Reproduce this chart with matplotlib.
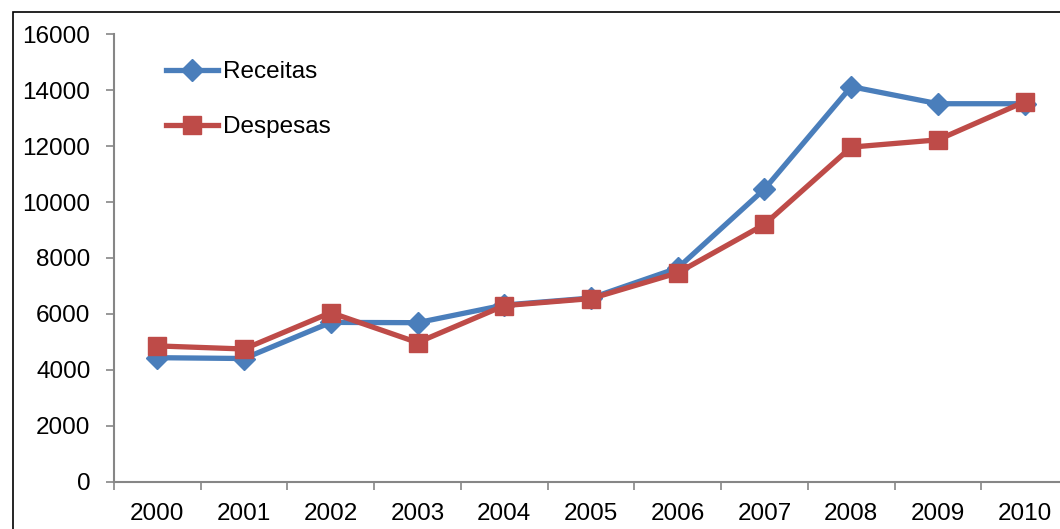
import matplotlib
matplotlib.use("Agg")
import matplotlib.pyplot as plt
from matplotlib.patches import Rectangle

plt.rcParams['font.family'] = ['Liberation Sans', 'DejaVu Sans']

anos = ['2000', '2001', '2002', '2003', '2004', '2005', '2006', '2007', '2008', '2009', '2010']
receitas = [4440, 4410, 5700, 5690, 6320, 6570, 7640, 10460, 14120, 13510, 13510]
despesas = [4860, 4750, 6050, 4980, 6300, 6550, 7470, 9200, 11960, 12220, 13580]
yticks = [0, 2000, 4000, 6000, 8000, 10000, 12000, 14000, 16000]

W, H = 1060, 529
fig = plt.figure(figsize=(W / 100, H / 100), dpi=100)

# outer chart frame
fig.patches.append(Rectangle((13 / W, -0.1), 2, 1 - 12 / H + 0.1, transform=fig.transFigure,
                             fill=False, edgecolor='black', linewidth=1.2))

ax = fig.add_axes([114 / W, (H - 482) / H, (1068 - 114) / W, (482 - 34) / H])

x = list(range(len(anos)))
azul = '#4A7EBB'
vermelho = '#BE4B48'
ax.plot(x, receitas, color=azul, linewidth=3.8, marker='D', markersize=11,
        markeredgecolor=azul, label='Receitas', zorder=3)
ax.plot(x, despesas, color=vermelho, linewidth=3.8, marker='s', markersize=13,
        markeredgecolor=vermelho, label='Despesas', zorder=4)

ax.set_xlim(-0.5, len(anos) - 0.5)
ax.set_ylim(0, 16000)
ax.set_yticks(yticks)
ax.set_yticklabels([str(v) for v in yticks])

ax.set_xticks(x)
ax.set_xticklabels(anos)
ax.set_xticks([i + 0.5 for i in range(-1, len(anos))], minor=True)
ax.tick_params(axis='x', which='major', length=0, pad=15, labelsize=17.5)
ax.tick_params(axis='x', which='minor', length=6, width=1.2, color='#868686', direction='out')
ax.tick_params(axis='y', length=6, width=1.2, color='#868686', direction='out', pad=11, labelsize=17.5)

for s in ['top', 'right']:
    ax.spines[s].set_visible(False)
for s in ['left', 'bottom']:
    ax.spines[s].set_color('#868686')
    ax.spines[s].set_linewidth(1.5)

leg = ax.legend(loc='upper left', bbox_to_anchor=(166 / W, 1 - 61 / H),
                bbox_transform=fig.transFigure, frameon=False, fontsize=17.5,
                handlelength=2.15, handletextpad=0.2, labelspacing=1.37,
                borderpad=0, borderaxespad=0)

fig.savefig('out.png', dpi=100)
